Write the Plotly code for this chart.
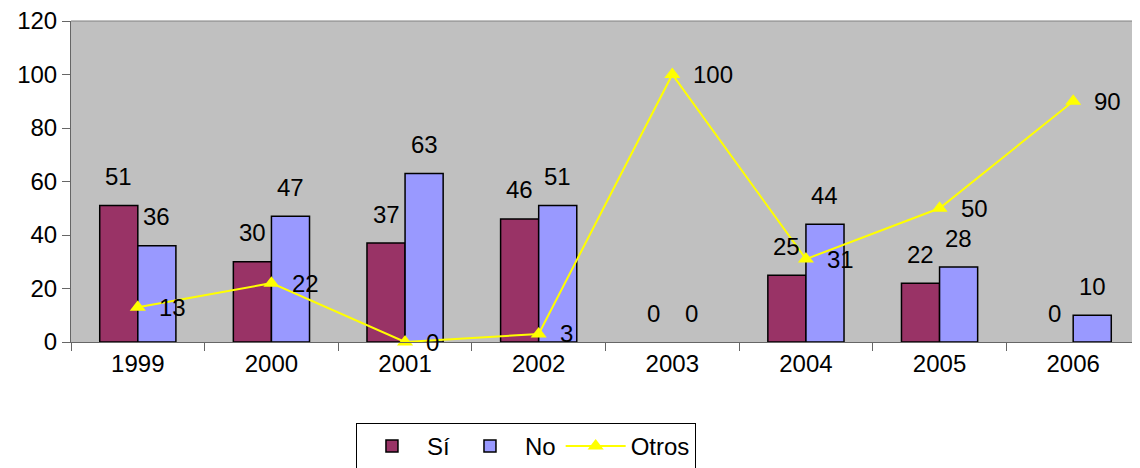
import plotly.graph_objects as go

years = ["1999", "2000", "2001", "2002", "2003", "2004", "2005", "2006"]
si = [51, 30, 37, 46, 0, 25, 22, 0]
no = [36, 47, 63, 51, 0, 44, 28, 10]
otros = [13, 22, 0, 3, 100, 31, 50, 90]
y_ticks = [0, 20, 40, 60, 80, 100, 120]

FONT = "Liberation Sans, Arial, sans-serif"
FS = 24

fig = go.Figure()
fig.add_trace(go.Bar(name="Sí", x=years, y=si,
                     marker=dict(color="#993366",
                                 line=dict(color="black", width=[1.5 if v else 0 for v in si]))))
fig.add_trace(go.Bar(name="No", x=years, y=no,
                     marker=dict(color="#9999FF",
                                 line=dict(color="black", width=[1.5 if v else 0 for v in no]))))
fig.add_trace(go.Scatter(name="Otros", x=years, y=otros, mode="lines+markers",
                         line=dict(color="#FFFF00", width=2),
                         marker=dict(symbol="triangle-up", size=14, color="#FFFF00"),
                         cliponaxis=False))

ann = []
for i, v in enumerate(si):
    ann.append(dict(x=i, y=v, xref="x", yref="y", text=str(v), showarrow=False,
                    xshift=-19, yshift=29, xanchor="center", yanchor="middle"))
for i, v in enumerate(no):
    ann.append(dict(x=i, y=v, xref="x", yref="y", text=str(v), showarrow=False,
                    xshift=19, yshift=29, xanchor="center", yanchor="middle"))
for i, v in enumerate(otros):
    ann.append(dict(x=i, y=v, xref="x", yref="y", text=str(v), showarrow=False,
                    xshift=19, yshift=0, xanchor="left", yanchor="middle"))

# page body has an 8px margin, so the figure is sized/offset to compensate
fig.update_layout(
    width=1132, height=460,
    margin=dict(l=63, r=0, t=13, b=126, autoexpand=False),
    paper_bgcolor="white", plot_bgcolor="#C0C0C0",
    font=dict(family=FONT, size=FS, color="black"),
    barmode="group", bargap=0.43, bargroupgap=0,
    annotations=ann,
    showlegend=True,
    legend=dict(orientation="h", x=0.4256, xanchor="center", y=-0.252, yanchor="top",
                bgcolor="white", bordercolor="black", borderwidth=1,
                font=dict(family=FONT, size=FS), itemwidth=60, traceorder="normal"),
)
fig.update_xaxes(type="category", range=[-0.5, len(years) - 0.5], autorange=False, automargin=False,
                 showgrid=False, showline=True, linecolor="#666", linewidth=1,
                 ticks="outside", tickson="boundaries", ticklen=8, tickcolor="#666",
                 tickangle=0, tickfont=dict(size=FS))
fig.update_yaxes(range=[0, 120], autorange=False, automargin=False, tickvals=y_ticks,
                 ticklabeloverflow="allow",
                 showgrid=False, showline=True,
                 linecolor="#666", linewidth=1, ticks="outside", ticklen=8, tickcolor="#666",
                 zeroline=False, tickfont=dict(size=FS))
fig.add_shape(type="line", xref="paper", yref="paper", x0=0, x1=1, y0=1, y1=1,
              line=dict(color="#808080", width=1))

fig.write_html("out.html")
